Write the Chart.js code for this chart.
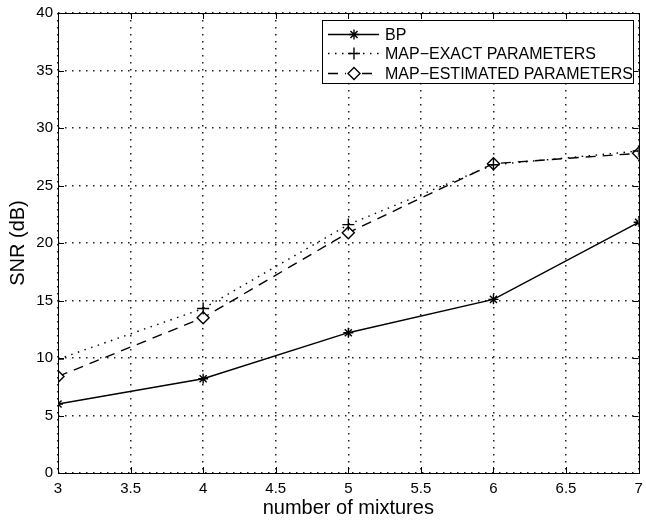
<!DOCTYPE html>
<html>
<head>
<meta charset="utf-8">
<script src="https://cdn.jsdelivr.net/npm/chart.js@4.4.1/dist/chart.umd.min.js"></script>
<style>
  html, body { margin: 0; padding: 0; background: #fff; }
  #wrap { width: 646px; height: 520px; }
</style>
</head>
<body>
<div id="wrap"><canvas id="snr"></canvas></div>
<script>
// values
const mixtures = [3, 4, 5, 6, 7];
const bpSnr = [6.0, 8.2, 12.2, 15.1, 21.8];
const mapExactSnr = [9.9, 14.3, 21.6, 26.8, 28.0];
const mapEstSnr = [8.4, 13.5, 20.9, 26.9, 27.8];
const xTicks = [3, 3.5, 4, 4.5, 5, 5.5, 6, 6.5, 7];
const yTicks = [0, 5, 10, 15, 20, 25, 30, 35, 40];

const FONT = "'Liberation Sans', Arial, sans-serif";

function toPoints(ys) {
  return mixtures.map((x, i) => ({ x: x, y: ys[i] }));
}

// matlab style: box round the axes, ticks pointing inward
const boxPlugin = {
  id: 'box',
  afterDraw(chart) {
    const ctx = chart.ctx, a = chart.chartArea;
    const xs = chart.scales.x, ys = chart.scales.y;
    ctx.save();
    ctx.strokeStyle = '#000';
    ctx.lineWidth = 1;
    ctx.beginPath();
    xTicks.forEach(v => {
      const px = Math.round(xs.getPixelForValue(v)) + 0.5;
      ctx.moveTo(px, a.bottom); ctx.lineTo(px, a.bottom - 6);
      ctx.moveTo(px, a.top); ctx.lineTo(px, a.top + 6);
    });
    yTicks.forEach(v => {
      const py = Math.round(ys.getPixelForValue(v)) + 0.5;
      ctx.moveTo(a.left, py); ctx.lineTo(a.left + 6, py);
      ctx.moveTo(a.right, py); ctx.lineTo(a.right - 6, py);
    });
    ctx.stroke();
    ctx.strokeRect(Math.round(a.left) + 0.5, Math.round(a.top) + 0.5,
      Math.round(a.right - a.left), Math.round(a.bottom - a.top));
    ctx.restore();
  }
};

// legend box drawn inside the axes, top right
const insideLegend = {
  id: 'insideLegend',
  afterDraw(chart) {
    const ctx = chart.ctx;
    const bx = 322, by = 20, bw = 311, bh = 63;
    ctx.save();
    ctx.fillStyle = '#fff';
    ctx.fillRect(bx, by, bw, bh);
    ctx.strokeStyle = '#000';
    ctx.lineWidth = 1;
    ctx.strokeRect(bx + 0.5, by + 0.5, bw, bh);
    const rows = [34, 53, 73];
    chart.data.datasets.forEach((ds, i) => {
      const y = rows[i] + 0.5;
      ctx.strokeStyle = '#000';
      ctx.lineWidth = ds.borderWidth;
      ctx.setLineDash(ds.borderDash || []);
      ctx.beginPath();
      ctx.moveTo(328, y); ctx.lineTo(379, y);
      ctx.stroke();
      ctx.setLineDash([]);
      if (ds.pointStyle === 'rectRot') {
        ctx.fillStyle = '#fff';
        ctx.fillRect(346, y - 7, 16, 14);
      }
      ctx.fillStyle = ds.pointBackgroundColor;
      Chart.helpers.drawPoint(ctx, {
        pointStyle: ds.pointStyle, radius: ds.pointRadius, borderWidth: ds.pointBorderWidth
      }, 354, y);
      ctx.fillStyle = '#000';
      ctx.font = '16px ' + FONT;
      ctx.textBaseline = 'middle';
      ctx.fillText(ds.label, 385, y + 1);
    });
    ctx.restore();
  }
};

const common = {
  borderColor: '#000',
  pointBorderColor: '#000',
  borderWidth: 1.4,
  pointBorderWidth: 1.4,
  tension: 0
};

new Chart(document.getElementById('snr'), {
  type: 'line',
  data: {
    datasets: [
      Object.assign({}, common, {
        label: 'BP', data: toPoints(bpSnr),
        pointStyle: 'star', pointRadius: 5, pointBackgroundColor: '#000'
      }),
      Object.assign({}, common, {
        label: 'MAP\u2212EXACT PARAMETERS', data: toPoints(mapExactSnr),
        borderDash: [1.5, 5.5], pointStyle: 'cross', pointRadius: 6, pointBackgroundColor: '#000'
      }),
      Object.assign({}, common, {
        label: 'MAP\u2212ESTIMATED PARAMETERS', data: toPoints(mapEstSnr),
        borderDash: [10, 7], pointStyle: 'rectRot', pointRadius: 6, pointBackgroundColor: '#fff'
      })
    ]
  },
  options: {
    responsive: true,
    maintainAspectRatio: false,
    animation: false,
    layout: { padding: { top: 13, right: 1, left: 0, bottom: 0 } },
    plugins: { legend: { display: false }, tooltip: { enabled: false } },
    scales: {
      x: {
        type: 'linear', min: 3, max: 7,
        afterBuildTicks: s => { s.ticks = xTicks.map(v => ({ value: v })); },
        afterFit: s => { s.height = 47; s.paddingLeft = 0; s.paddingRight = 0; },
        grid: { color: '#222', lineWidth: 1.5, drawTicks: false },
        border: { display: false, dash: [1.5, 5.5] },
        ticks: { color: '#000', font: { family: FONT, size: 15 }, padding: 7, maxRotation: 0,
          callback: v => String(v) },
        title: { display: true, text: 'number of mixtures', color: '#000',
          font: { family: FONT, size: 20 }, padding: { top: 0, bottom: 0 } }
      },
      y: {
        type: 'linear', min: 0, max: 40,
        afterBuildTicks: s => { s.ticks = yTicks.map(v => ({ value: v })); },
        afterFit: s => { s.width = 58; s.paddingTop = 0; s.paddingBottom = 0; },
        grid: { color: '#222', lineWidth: 1.5, drawTicks: false },
        border: { display: false, dash: [1.5, 5.5] },
        ticks: { color: '#000', font: { family: FONT, size: 15 }, padding: 5,
          callback: v => String(v) },
        title: { display: true, text: 'SNR (dB)', color: '#000',
          font: { family: FONT, size: 20 }, padding: { top: 6, bottom: 4 } }
      }
    }
  },
  plugins: [boxPlugin, insideLegend]
});
</script>
</body>
</html>
